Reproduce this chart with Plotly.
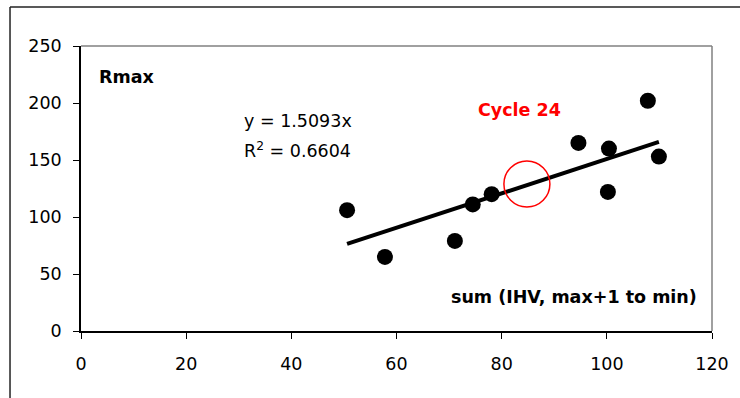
import numpy as np
import plotly.graph_objects as go

# Data
x_vals = [50.6, 57.8, 71.1, 74.5, 78.1, 94.6, 100.4, 100.2, 107.8, 109.9]
y_vals = [106, 65, 79, 111, 120, 165, 160, 122, 202, 153]
slope = 1.5093
r2 = 0.6604
cycle24_x = [84.8]
cycle24_y = [129]
x_ticks = [0, 20, 40, 60, 80, 100, 120]
y_ticks = [0, 50, 100, 150, 200, 250]

FONT = "DejaVu Sans"
FS = 17.5

x_line = np.array([min(x_vals), max(x_vals)])
y_line = slope * x_line

fig = go.Figure()
fig.add_trace(go.Scatter(x=x_line, y=y_line, mode="lines",
                         line=dict(color="black", width=4), hoverinfo="skip"))
fig.add_trace(go.Scatter(x=x_vals, y=y_vals, mode="markers",
                         marker=dict(color="black", size=16, symbol="circle")))
fig.add_trace(go.Scatter(x=cycle24_x, y=cycle24_y, mode="markers",
                         marker=dict(symbol="circle-open", size=46,
                                     color="red", line=dict(color="red", width=1.5))))

fig.add_annotation(x=3.0, y=223, text="<b>Rmax</b>", showarrow=False,
                   xanchor="left", yanchor="middle",
                   font=dict(family=FONT, size=FS, color="black"))
fig.add_annotation(x=30.7, y=184.5, text=f"y = {slope}x", showarrow=False,
                   xanchor="left", yanchor="middle",
                   font=dict(family=FONT, size=FS, color="black"))
fig.add_annotation(x=30.7, y=158.8, text=f"R<sup>2</sup> = {r2}", showarrow=False,
                   xanchor="left", yanchor="middle",
                   font=dict(family=FONT, size=FS, color="black"))
fig.add_annotation(x=75.1, y=194, text="<b>Cycle 24</b>", showarrow=False,
                   xanchor="left", yanchor="middle",
                   font=dict(family=FONT, size=FS, color="red"))
fig.add_annotation(x=117.6, y=30, text="<b>sum (IHV, max+1 to min)</b>", showarrow=False,
                   xanchor="right", yanchor="middle",
                   font=dict(family=FONT, size=FS, color="black"))

# plot-area top/right border (gray) and outer chart frame
fig.add_shape(type="line", xref="paper", yref="paper", x0=0, y0=1, x1=1, y1=1,
              line=dict(color="#808080", width=1.5))
fig.add_shape(type="line", xref="paper", yref="paper", x0=1, y0=0, x1=1, y1=1,
              line=dict(color="#808080", width=1.5))
fig.add_shape(type="line", xref="paper", yref="paper", x0=-0.1125, y0=1.1368, x1=1.2, y1=1.1368,
              line=dict(color="#222222", width=1.5))
fig.add_shape(type="line", xref="paper", yref="paper", x0=-0.1125, y0=-0.4, x1=-0.1125, y1=1.1368,
              line=dict(color="#222222", width=1.5))

fig.update_layout(
    width=740, height=398,
    margin=dict(l=81, r=28, t=46, b=67),
    paper_bgcolor="white", plot_bgcolor="white",
    showlegend=False,
    font=dict(family=FONT, size=FS, color="black"),
    xaxis=dict(range=[0, 120], tickvals=x_ticks, showgrid=False, zeroline=False,
               showline=True, linecolor="black", linewidth=1.5,
               ticks="outside", ticklen=6, tickcolor="black", tickwidth=1,
               ticklabelstandoff=10, tickfont=dict(family=FONT, size=FS)),
    yaxis=dict(range=[0, 250], tickvals=y_ticks, showgrid=False, zeroline=False,
               showline=True, linecolor="black", linewidth=1.5,
               ticks="outside", ticklen=6, tickcolor="black", tickwidth=1,
               ticklabelstandoff=8, tickfont=dict(family=FONT, size=FS)),
)

fig.write_html("out.html", config={"displayModeBar": False},
               post_script="document.body.style.margin='0';document.body.style.overflow='hidden';")
